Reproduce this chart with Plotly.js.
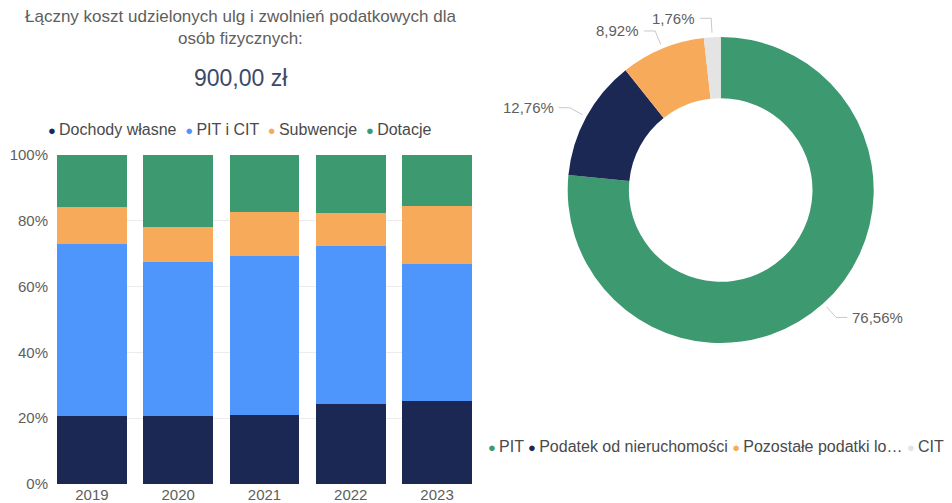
<!DOCTYPE html>
<html><head><meta charset="utf-8">
<script src="https://cdn.plot.ly/plotly-3.0.1.min.js"></script>
<style>html,body{margin:0;padding:0;background:#fff}#chart{width:952px;height:503px}</style>
</head><body><div id="chart"></div>
<script>
const years = ["2019","2020","2021","2022","2023"];
const barSeries = ["Dochody własne","PIT i CIT","Subwencje","Dotacje"];
const dochodyWlasne = [20.7, 20.7, 21.0, 24.3, 25.3];
const pitICit      = [52.3, 46.9, 48.3, 47.9, 41.6];
const subwencje    = [11.1, 10.4, 13.3, 10.3, 17.5];
const dotacje      = [15.9, 22.0, 17.4, 17.5, 15.6];
const yTicks = [0,20,40,60,80,100];

const pieLabels = ["PIT","Podatek od nieruchomości","Pozostałe podatki lo…","CIT"];
const pieValues = [76.56, 12.76, 8.92, 1.76];

const titleLine = "Łączny koszt udzielonych ulg i zwolnień podatkowych dla<br>osób fizycznych:";
const totalText = "900,00 zł";

const barColors = ["#1a2853","#4f96fc","#f7aa5a","#3d9970"];
const pieColors = ["#3d9970","#1a2853","#f7aa5a","#e4e4e4"];
const barData = [dochodyWlasne, pitICit, subwencje, dotacje];

const W = 952, H = 503;
const px = x => x / W, py = y => (H - y) / H;
// donut placement (layout)
const CX = 720.7, CY = 190, R = 153;

const traces = barSeries.map((name,i)=>({
  type:'bar', x:years, y:barData[i], name:name,
  marker:{color:barColors[i]}, showlegend:false, hoverinfo:'skip'
}));
traces.push({
  type:'pie', labels:pieLabels, values:pieValues, hole:0.6,
  sort:false, direction:'clockwise', rotation:0,
  marker:{colors:pieColors, line:{color:'#fff', width:0}},
  textinfo:'none',
  domain:{x:[px(CX-R), px(CX+R)], y:[py(CY+R), py(CY-R)]},
  showlegend:false, hoverinfo:'skip'
});

function legendText(names, colors, sep){
  return names.map((n,i)=>'<span style="color:'+colors[i]+';font-size:13px">●</span>&#8201;'+n).join(sep);
}

// outside labels with elbow leader lines, placed from the slice mid-angles
const total = pieValues.reduce((a,b)=>a+b,0);
const shapes = [], pieAnn = [];
let cum = 0;
const fmt = v => (100*v/total).toFixed(2).replace('.',',') + '%';
pieValues.forEach((v,i)=>{
  const mid = (cum + v/2) / total * 2 * Math.PI; cum += v;
  const s = Math.sin(mid), c = Math.cos(mid);
  const x1 = CX + (R+4.5)*s, y1 = CY - (R+4.5)*c;
  const x2 = CX + (R+19)*s,  y2 = CY - (R+19)*c;
  const dir = s >= 0 ? 1 : -1;
  const x3 = x2 + dir*11;
  const line = {color:'#c8c8c8', width:1};
  shapes.push({type:'line', xref:'paper', yref:'paper', x0:px(x1), y0:py(y1), x1:px(x2), y1:py(y2), line});
  shapes.push({type:'line', xref:'paper', yref:'paper', x0:px(x2), y0:py(y2), x1:px(x3), y1:py(y2), line});
  pieAnn.push({xref:'paper', yref:'paper', x:px(x3 + dir*3), y:py(y2), text:fmt(v), showarrow:false,
    xanchor: dir>0 ? 'left' : 'right', yanchor:'middle', font:{size:15, color:'#605e5c'}});
});

const layout = {
  width:W, height:H, margin:{l:0,r:0,t:0,b:0},
  paper_bgcolor:'#fff', plot_bgcolor:'#fff',
  separators:', ',
  barmode:'stack', bargap:0.19,
  font:{family:'Liberation Sans, Arial, sans-serif', color:'#605e5c'},
  xaxis:{domain:[px(57), px(472)], type:'category', range:[-0.405, 4.405],
    tickfont:{size:15, color:'#605e5c'}, showgrid:false, zeroline:false, showline:false, ticks:'', fixedrange:true},
  yaxis:{domain:[py(484), py(155)], range:[0,100], tickvals:yTicks, ticktext:yTicks.map(v=>v+'%'),
    ticklabelstandoff:8,
    tickfont:{size:15, color:'#605e5c'}, gridcolor:'#ececec', gridwidth:1, zeroline:false, showline:false, ticks:'', ticklen:0, fixedrange:true},
  shapes: shapes,
  annotations:[
    {xref:'paper', yref:'paper', x:px(240), y:py(27), text:titleLine, showarrow:false,
     font:{size:17, color:'#605e5c'}, xanchor:'center', yanchor:'middle'},
    {xref:'paper', yref:'paper', x:px(240), y:py(78), text:totalText, showarrow:false,
     font:{size:23, color:'#3b4a6b'}, xanchor:'center', yanchor:'middle'},
    {xref:'paper', yref:'paper', x:px(239), y:py(130), text:legendText(barSeries, barColors, '  '), showarrow:false,
     font:{size:16, color:'#4a4a4a'}, xanchor:'center', yanchor:'middle'},
    {xref:'paper', yref:'paper', x:px(486), y:py(446), text:legendText(pieLabels, pieColors, ' '), showarrow:false,
     font:{size:16, color:'#4a4a4a'}, xanchor:'left', yanchor:'middle'}
  ].concat(pieAnn)
};
Plotly.newPlot('chart', traces, layout, {displayModeBar:false, staticPlot:true});
</script></body></html>
